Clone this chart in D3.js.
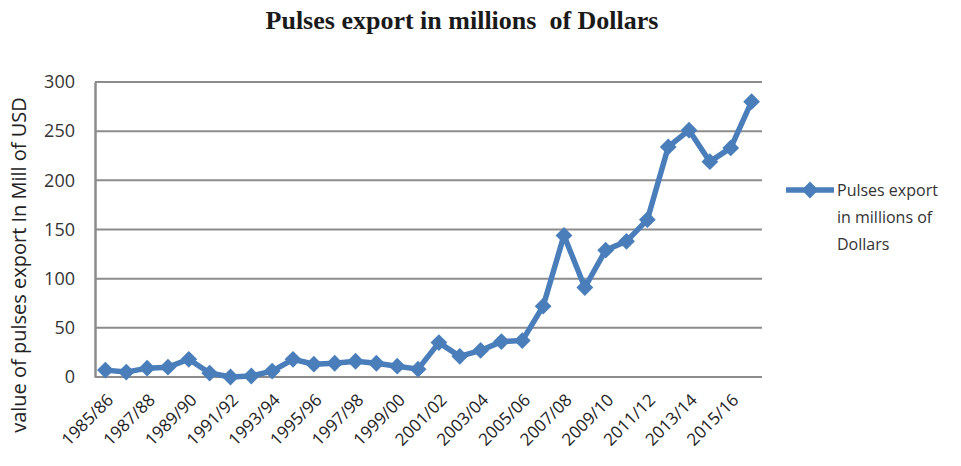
<!DOCTYPE html>
<html>
<head>
<meta charset="utf-8">
<script src="https://cdn.jsdelivr.net/npm/d3@7"></script>
<style>
  html, body { margin: 0; padding: 0; background: #fff; }
  svg { display: block; }
</style>
</head>
<body>
<svg id="chart" width="961" height="466"></svg>
<script>
// Fiscal years of the series
const years = [
  "1985/86","1986/87","1987/88","1988/89","1989/90","1990/91","1991/92","1992/93",
  "1993/94","1994/95","1995/96","1996/97","1997/98","1998/99","1999/00","2000/01",
  "2001/02","2002/03","2003/04","2004/05","2005/06","2006/07","2007/08","2008/09",
  "2009/10","2010/11","2011/12","2012/13","2013/14","2014/15","2015/16","2016/17"
];
// Pulses export, million USD
const exportValues = [
  7, 5, 9, 10, 18, 4, 0, 1,
  6, 18, 13, 14, 16, 14, 11, 8,
  35, 21, 27, 36, 37, 72, 144, 91,
  129, 138, 160, 234, 251, 219, 233, 280
];
// Every second year gets a label
const xTickLabels = years.filter((d, i) => i % 2 === 0);
const yTickValues = [0, 50, 100, 150, 200, 250, 300];

const titleText = "Pulses export in millions  of Dollars";
const yTitleText = "value of pulses export In Mill of USD";
const legendLines = ["Pulses export", "in millions of", "Dollars"];

const svg = d3.select("#chart");
const plotLeft = 95, plotRight = 762, plotTop = 82, plotBottom = 377;
const blue = "#4A7EBB";
const grid = "#8c8c8c";
const labelFont = "'Open Sans', 'Noto Sans', sans-serif";

const x = d3.scaleBand().domain(years).range([plotLeft, plotRight]);
const y = d3.scaleLinear().domain([0, 300]).range([plotBottom, plotTop]);
const cx = d => x(d) + x.bandwidth() / 2;

// Title
svg.append("text")
  .attr("x", 462).attr("y", 29)
  .attr("text-anchor", "middle")
  .attr("font-family", "'Liberation Serif', 'Times New Roman', serif")
  .attr("font-weight", "bold")
  .attr("font-size", 26)
  .attr("fill", "#1a1a1a")
  .style("white-space", "pre")
  .text(titleText);

// Horizontal gridlines
svg.append("g")
  .selectAll("line")
  .data(yTickValues)
  .join("line")
  .attr("x1", plotLeft).attr("x2", plotRight)
  .attr("y1", d => y(d)).attr("y2", d => y(d))
  .attr("stroke", grid).attr("stroke-width", 2);

// Y axis line and tick labels
const yAxis = d3.axisLeft(y).tickValues(yTickValues).tickSize(0).tickPadding(20);
const yg = svg.append("g").attr("transform", `translate(${plotLeft},0)`).call(yAxis);
yg.select(".domain").attr("stroke", grid).attr("stroke-width", 2.5);
yg.selectAll("text")
  .attr("font-family", labelFont)
  .attr("font-size", 18)
  .attr("fill", "#333");

// X axis tick labels, rotated
const xAxis = d3.axisBottom(x).tickValues(xTickLabels).tickSize(0).tickPadding(0);
const xg = svg.append("g").attr("transform", `translate(0,${plotBottom})`).call(xAxis);
xg.select(".domain").remove();
xg.selectAll("text")
  .attr("font-family", labelFont)
  .attr("font-size", 17)
  .attr("fill", "#222")
  .attr("text-anchor", "end")
  .attr("dy", null)
  .attr("transform", "translate(9,24) rotate(-45)");

// Y axis title
svg.append("text")
  .attr("transform", `translate(26,265) rotate(-90)`)
  .attr("text-anchor", "middle")
  .attr("font-family", labelFont)
  .attr("font-size", 20)
  .attr("fill", "#222")
  .text(yTitleText);

// Series line
const line = d3.line().x((d, i) => cx(years[i])).y(d => y(d));
svg.append("path")
  .datum(exportValues)
  .attr("d", line)
  .attr("fill", "none")
  .attr("stroke", blue)
  .attr("stroke-width", 5.5)
  .attr("stroke-linejoin", "round");

// Diamond markers
const diamond = d3.symbol().type(d3.symbolDiamond2).size(180);
svg.append("g")
  .selectAll("path")
  .data(exportValues)
  .join("path")
  .attr("d", diamond)
  .attr("transform", (d, i) => `translate(${cx(years[i])},${y(d)})`)
  .attr("fill", blue);

// Legend
const lg = svg.append("g").attr("transform", "translate(786,190)");
lg.append("line").attr("x1", 0).attr("x2", 48).attr("y1", 0).attr("y2", 0)
  .attr("stroke", blue).attr("stroke-width", 5.5);
lg.append("path").attr("d", diamond).attr("transform", "translate(24,0)").attr("fill", blue);
lg.append("g").selectAll("text")
  .data(legendLines)
  .join("text")
  .attr("x", 51)
  .attr("y", (d, i) => 6 + i * 27)
  .attr("font-family", labelFont)
  .attr("font-size", 16)
  .attr("fill", "#333")
  .text(d => d);
</script>
</body>
</html>
